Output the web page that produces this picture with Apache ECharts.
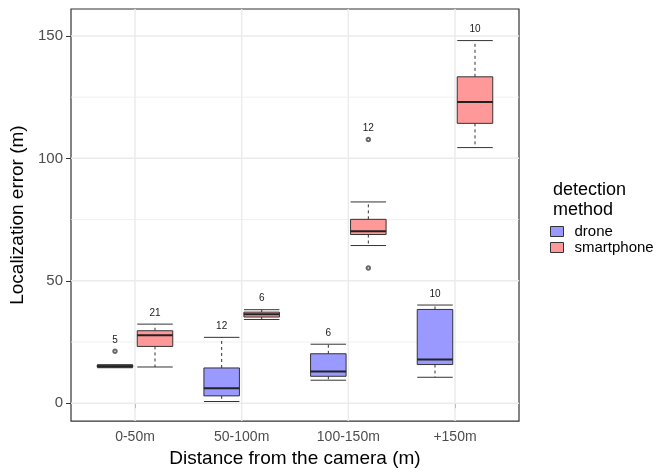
<!DOCTYPE html>
<html>
<head>
<meta charset="utf-8">
<script src="https://cdn.jsdelivr.net/npm/echarts@6/dist/echarts.min.js"></script>
<style>
    html, body { margin: 0; padding: 0; background: #fff; }
    #main { width: 669px; height: 473px; }
</style>
</head>
<body>
<div id="main"></div>
<script>
    // data: [min, q1, median, q3, max] per distance class
    const categories = ['0-50m', '50-100m', '100-150m', '+150m'];
    const droneStats = [
        [14.5, 14.7, 15.1, 15.6, 15.7],
        [0.7, 3.0, 6.1, 14.4, 26.9],
        [9.4, 11.0, 13.0, 20.2, 24.1],
        [10.6, 15.8, 17.9, 38.3, 40.1]
    ];
    const phoneStats = [
        [14.8, 23.2, 27.8, 29.6, 32.3],
        [34.2, 35.2, 36.3, 37.2, 38.2],
        [64.4, 68.9, 70.2, 75.1, 82.2],
        [104.4, 114.3, 123.0, 133.3, 148.1]
    ];
    const droneCounts = [5, 12, 6, 10];
    const phoneCounts = [21, 6, 12, 10];
    // outliers: [category index, value]
    const droneOutliers = [[0, 21.2]];
    const phoneOutliers = [[2, 107.7], [2, 55.2]];
    const yMajor = [0, 50, 100, 150];
    const yMinor = [25, 75, 125];

    const font = "'Liberation Sans', Arial, sans-serif";
    const ink = '#333333';
    const dodge = 0.1875;
    const boxWidth = 0.333;

    function buildBoxes(stats, counts, outliers) {
        return stats.map(function (s, i) {
            let top = s[4];
            outliers.forEach(function (o) {
                if (o[0] === i) top = Math.max(top, o[1]);
            });
            return [i + 1].concat(s, [counts[i], top]);
        });
    }

    function boxRenderer(offset, fill) {
        return function (params, api) {
            const x = api.value(0) + offset;
            const lo = api.coord([x, api.value(1)]);
            const q1 = api.coord([x, api.value(2)]);
            const md = api.coord([x, api.value(3)]);
            const q3 = api.coord([x, api.value(4)]);
            const hi = api.coord([x, api.value(5)]);
            const top = api.coord([x, api.value(7)]);
            const half = api.size([boxWidth, 0])[0] / 2;
            const cx = lo[0];
            const dashed = { stroke: ink, lineWidth: 1, lineDash: [3, 3] };
            const solid = { stroke: ink, lineWidth: 1 };
            return {
                type: 'group',
                children: [
                    { type: 'line', shape: { x1: cx, y1: q3[1], x2: cx, y2: hi[1] }, style: dashed },
                    { type: 'line', shape: { x1: cx, y1: q1[1], x2: cx, y2: lo[1] }, style: dashed },
                    { type: 'line', shape: { x1: cx - half, y1: hi[1], x2: cx + half, y2: hi[1] }, style: solid },
                    { type: 'line', shape: { x1: cx - half, y1: lo[1], x2: cx + half, y2: lo[1] }, style: solid },
                    {
                        type: 'rect',
                        shape: { x: cx - half, y: q3[1], width: half * 2, height: Math.max(q1[1] - q3[1], 1) },
                        style: { fill: fill, stroke: ink, lineWidth: 1 }
                    },
                    { type: 'line', shape: { x1: cx - half, y1: md[1], x2: cx + half, y2: md[1] }, style: { stroke: '#222', lineWidth: 2 } },
                    {
                        type: 'text',
                        style: {
                            text: String(api.value(6)), x: cx, y: top[1] - 11,
                            align: 'center', verticalAlign: 'middle',
                            fontSize: 10, fontFamily: font, fill: '#1a1a1a'
                        }
                    }
                ]
            };
        };
    }

    function hGrid(width) {
        return function (params, api) {
            const p = api.coord([1, api.value(1)]);
            const cs = params.coordSys;
            return {
                type: 'line',
                shape: { x1: cs.x, y1: p[1], x2: cs.x + cs.width, y2: p[1] },
                style: { stroke: '#ebebeb', lineWidth: width }
            };
        };
    }

    function vGrid(params, api) {
        const p = api.coord([api.value(0), 0]);
        const cs = params.coordSys;
        return {
            type: 'line',
            shape: { x1: p[0], y1: cs.y, x2: p[0], y2: cs.y + cs.height },
            style: { stroke: '#ebebeb', lineWidth: 1.5 }
        };
    }

    let myChart = echarts.init(document.getElementById('main'));
    let option = {
        animation: false,
        backgroundColor: '#fff',
        textStyle: { fontFamily: font },
        title: {
            text: 'detection\nmethod',
            left: 548,
            top: 175,
            textStyle: { fontSize: 18, fontWeight: 'normal', color: '#000', lineHeight: 20, fontFamily: font }
        },
        legend: {
            orient: 'vertical',
            left: 550,
            top: 224,
            itemWidth: 13,
            itemHeight: 10,
            itemGap: 1,
            padding: 0,
            icon: 'rect',
            itemStyle: { borderColor: ink, borderWidth: 1 },
            textStyle: { fontSize: 15, color: '#000', fontFamily: font, padding: [0, 0, 0, 6] },
            data: ['drone', 'smartphone']
        },
        grid: {
            left: 71, right: 150, top: 9, bottom: 51,
            show: true, borderColor: ink, borderWidth: 1.2, backgroundColor: '#fff'
        },
        xAxis: {
            type: 'value',
            min: 0.4,
            max: 4.6,
            name: 'Distance from the camera (m)',
            nameLocation: 'middle',
            nameGap: 26,
            nameTextStyle: { fontSize: 19, color: '#000', fontFamily: font },
            axisLine: { show: false },
            splitLine: { show: false },
            axisTick: { show: true, length: 5, customValues: [1, 2, 3, 4], lineStyle: { color: ink } },
            axisLabel: {
                customValues: [1, 2, 3, 4],
                margin: 9,
                fontSize: 14,
                color: '#4d4d4d',
                formatter: function (v) { return categories[Math.round(v) - 1]; }
            }
        },
        yAxis: {
            type: 'value',
            min: -7.3,
            max: 161,
            name: 'Localization error (m)',
            nameLocation: 'middle',
            nameGap: 39,
            nameTextStyle: { fontSize: 19, color: '#000', fontFamily: font },
            axisLine: { show: false },
            splitLine: { show: false },
            axisTick: { show: true, length: 5, customValues: yMajor, lineStyle: { color: ink } },
            axisLabel: { customValues: yMajor, margin: 8, fontSize: 15, color: '#4d4d4d' }
        },
        series: [
            { type: 'custom', silent: true, z: 1, renderItem: hGrid(0.8), data: yMinor.map(function (v) { return [1, v]; }) },
            { type: 'custom', silent: true, z: 1, renderItem: hGrid(1.5), data: yMajor.map(function (v) { return [1, v]; }) },
            { type: 'custom', silent: true, z: 1, renderItem: vGrid, data: categories.map(function (c, i) { return [i + 1, 0]; }) },
            {
                name: 'drone', type: 'custom', z: 3,
                itemStyle: { color: '#9999ff' },
                renderItem: boxRenderer(-dodge, '#9999ff'),
                encode: { x: 0, y: [1, 2, 3, 4, 5] },
                data: buildBoxes(droneStats, droneCounts, droneOutliers)
            },
            {
                name: 'smartphone', type: 'custom', z: 3,
                itemStyle: { color: '#ff9999' },
                renderItem: boxRenderer(dodge, '#ff9999'),
                encode: { x: 0, y: [1, 2, 3, 4, 5] },
                data: buildBoxes(phoneStats, phoneCounts, phoneOutliers)
            },
            {
                name: 'drone outliers', type: 'scatter', z: 4, silent: true,
                symbol: 'emptyCircle', symbolSize: 3.5,
                itemStyle: { color: '#444', borderWidth: 0.8 },
                data: droneOutliers.map(function (o) { return [o[0] + 1 - dodge, o[1]]; })
            },
            {
                name: 'smartphone outliers', type: 'scatter', z: 4, silent: true,
                symbol: 'emptyCircle', symbolSize: 3.5,
                itemStyle: { color: '#444', borderWidth: 0.8 },
                data: phoneOutliers.map(function (o) { return [o[0] + 1 + dodge, o[1]]; })
            }
        ]
    };
    myChart.setOption(option);
</script>
</body>
</html>
